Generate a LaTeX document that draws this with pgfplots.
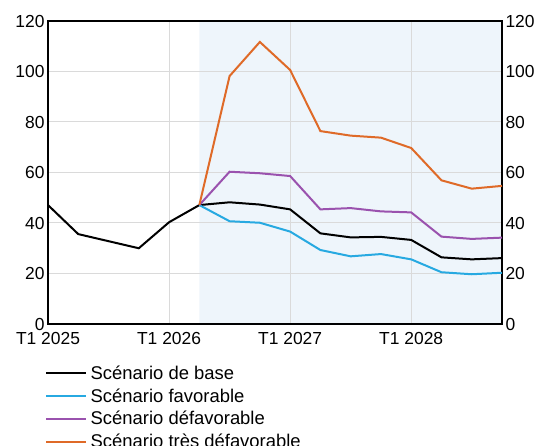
\documentclass[border=0pt]{standalone}
\usepackage{fontspec}
\setmainfont{Liberation Sans}
\usepackage{pgfplots}
\pgfplotsset{compat=1.18}
\definecolor{cBlue}{HTML}{27A9E1}
\definecolor{cPurple}{HTML}{9A52AE}
\definecolor{cOrange}{HTML}{DF6A28}
\definecolor{cShade}{HTML}{EEF5FB}
\definecolor{cGrid}{HTML}{DADADA}
\newcommand{\chfont}{\fontsize{17.5}{20}\selectfont}
\newcommand{\lgfont}{\fontsize{18.5}{21}\selectfont}
\begin{document}
\begin{tikzpicture}
\pgfplotsset{
  common/.style={
    scale only axis, width=454bp, height=303bp,
    xmin=0, xmax=15, ymin=0, ymax=120,
    ytick={0,20,...,120},
    major tick length=0pt,
    tick label style={font=\chfont},
    /pgf/number format/assume math mode=true,
  }
}
\begin{axis}[common,
  set layers,
  axis line style={black, line width=1.2bp},
  xtick={0,4,8,12},
  xticklabels={T1 2025,T1 2026,T1 2027,T1 2028},
  xticklabel style={yshift=-5bp},
  grid=major,
  grid style={cGrid, line width=1bp},
  legend style={at={(axis description cs:-0.0066,-0.132)}, anchor=north west,
    draw=none, fill=none, inner sep=0pt, row sep=4.7bp,
    font=\lgfont, nodes={inner xsep=3.5bp, inner ysep=1.5bp}},
  legend cell align=left,
  legend image code/.code={\draw[#1] (0bp,0bp) -- (40bp,0bp);},
]
\addplot[draw=none, fill=cShade, on layer=axis background, forget plot]
  coordinates {(5,0) (5,120) (15,120) (15,0)} \closedcycle;
\addplot[black, line width=2bp] coordinates {
 (0,47.1) (1,35.6) (2,32.8) (3,30.0) (4,40.3) (5,47.1) (6,48.2) (7,47.3)
 (8,45.4) (9,35.9) (10,34.3) (11,34.5) (12,33.3) (13,26.4) (14,25.6) (15,26.1)};
\addlegendentry{Scénario de base}
\addplot[cBlue, line width=2bp] coordinates {
 (5,47.1) (6,40.7) (7,40.1) (8,36.6) (9,29.3) (10,26.8) (11,27.7) (12,25.6)
 (13,20.5) (14,19.7) (15,20.3)};
\addlegendentry{Scénario favorable}
\addplot[cPurple, line width=2bp] coordinates {
 (5,47.1) (6,60.3) (7,59.7) (8,58.6) (9,45.4) (10,45.9) (11,44.6) (12,44.2)
 (13,34.6) (14,33.7) (15,34.2)};
\addlegendentry{Scénario défavorable}
\addplot[cOrange, line width=2bp] coordinates {
 (5,47.1) (6,98.2) (7,111.7) (8,100.6) (9,76.4) (10,74.6) (11,73.8) (12,69.7)
 (13,56.9) (14,53.6) (15,54.7)};
\addlegendentry{Scénario très défavorable}
\end{axis}
\begin{axis}[common,
  axis x line=none, axis y line*=right,
  axis line style={draw=none},
  yticklabel pos=right,
]
\addplot[draw=none] coordinates {(0,0)};
\end{axis}
\pgfresetboundingbox
\useasboundingbox (-48bp,-122bp) rectangle (493bp,324bp);
\end{tikzpicture}
\end{document}
